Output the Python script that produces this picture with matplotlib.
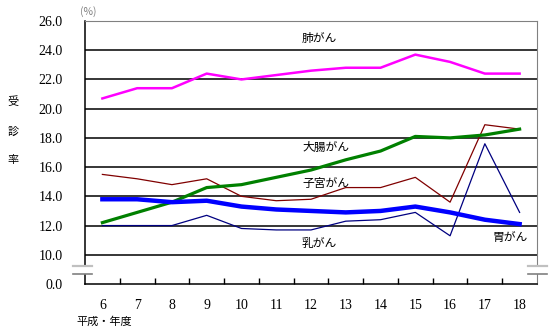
import numpy as np
import matplotlib
matplotlib.use("Agg")
from matplotlib import pyplot as plt

years = ['6', '7', '8', '9', '10', '11', '12', '13', '14', '15', '16', '17', '18']
lung = [20.7, 21.4, 21.4, 22.4, 22.0, 22.3, 22.6, 22.8, 22.8, 23.7, 23.2, 22.4, 22.4]
colon = [12.2, 12.9, 13.6, 14.6, 14.8, 15.3, 15.8, 16.5, 17.1, 18.1, 18.0, 18.2, 18.6]
uterus = [15.5, 15.2, 14.8, 15.2, 14.0, 13.7, 13.8, 14.6, 14.6, 15.3, 13.6, 18.9, 18.6]
stomach = [13.8, 13.8, 13.6, 13.7, 13.3, 13.1, 13.0, 12.9, 13.0, 13.3, 12.9, 12.4, 12.1]
breast = [12.0, 12.0, 12.0, 12.7, 11.8, 11.7, 11.7, 12.3, 12.4, 12.9, 11.3, 17.6, 12.9]
ytick_vals = [0, 10, 12, 14, 16, 18, 20, 22, 24, 26]

JP = ['Noto Sans CJK JP', 'DejaVu Sans']
NUM = 'Liberation Serif'

# axis is broken between 0 and 10: value 0 is drawn where 8 would be
def disp(v):
    return 8.0 if v == 0 else v

fig = plt.figure(figsize=(5.5, 3.31), dpi=100)
ax = fig.add_axes([85/550, 1 - 284/331, (537 - 85)/550, (284 - 21)/331])

x = np.arange(len(years)) + 0.5
ax.plot(x, uterus, color='#800000', lw=0.9, zorder=3)
ax.plot(x, breast, color='#000080', lw=0.9, zorder=3)
ax.plot(x, lung, color='#FF00FF', lw=1.8, zorder=4)
ax.plot(x, colon, color='#008000', lw=2.3, zorder=4)
ax.plot(x, stomach, color='#0000FF', lw=3.2, zorder=5)

ax.set_xlim(0, len(years))
ax.set_ylim(8, 26)

for v in range(10, 26, 2):
    ax.axhline(v, color='black', lw=1.1, zorder=1)

ax.set_yticks([disp(v) for v in ytick_vals])
ax.set_yticklabels(['%.1f' % v for v in ytick_vals], family=NUM, fontsize=10)
ax.tick_params(axis='y', length=0, pad=16)

ax.set_xticks(x)
ax.set_xticklabels(years, family=NUM, fontsize=10)
ax.tick_params(axis='x', length=0, pad=11)
ax.set_xticks(np.arange(1, len(years)), minor=True)
ax.tick_params(axis='x', which='minor', direction='in', length=4, width=1, color='black')

ax.spines['left'].set_color('black')
ax.spines['bottom'].set_color('black')
ax.spines['left'].set_linewidth(1.1)
ax.spines['bottom'].set_linewidth(1.1)
ax.spines['top'].set_color('#808080')
ax.spines['right'].set_color('#808080')

# break marks on both sides
for xa, xb in [(-0.35, 0.2), (12.75, 13.3)]:
    ax.fill_between([xa, xb], 8.7, 9.2, color='white', zorder=6, clip_on=False, lw=0)
    ax.plot([xa, xb], [9.2, 9.2], color='#c0c0c0', lw=1.6, clip_on=False, zorder=7)
    ax.plot([xa, xb], [8.7, 8.7], color='#808080', lw=1.2, clip_on=False, zorder=7)

# series labels
labels = [('肺がん', 302, 38), ('大腸がん', 302, 147), ('子宮がん', 302, 183),
          ('乳がん', 302, 243), ('胃がん', 493, 238)]
for txt, px, py in labels:
    fig.text(px/550, 1 - py/331, txt, family=JP, fontsize=8.5, ha='left', va='center')

fig.text(88/550, 1 - 12/331, '(%)', family=JP, fontsize=7.5, color='#808080', ha='center', va='center')
for ch, py in zip(['受', '診', '率'], [102, 132, 160]):
    fig.text(13/550, 1 - py/331, ch, family=JP, fontsize=8, ha='center', va='center', rotation=0)
fig.text(104/550, 1 - 322/331, '平成・年度', family=JP, fontsize=8, ha='center', va='center')

fig.savefig('out.png', dpi=100)
